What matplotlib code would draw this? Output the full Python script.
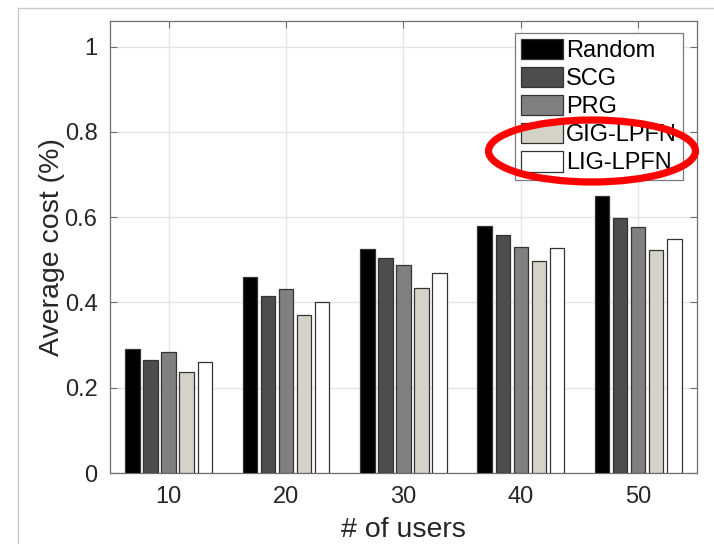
import numpy as np
import matplotlib.pyplot as plt
from matplotlib.lines import Line2D
from matplotlib.patches import Ellipse

# Data
users = [10, 20, 30, 40, 50]
methods = ['Random', 'SCG', 'PRG', 'GIG-LPFN', 'LIG-LPFN']
random_cost = [0.290, 0.460, 0.525, 0.580, 0.650]
scg_cost = [0.265, 0.415, 0.503, 0.557, 0.597]
prg_cost = [0.283, 0.432, 0.488, 0.530, 0.578]
gig_cost = [0.238, 0.370, 0.433, 0.496, 0.523]
lig_cost = [0.260, 0.400, 0.468, 0.528, 0.548]

series = [random_cost, scg_cost, prg_cost, gig_cost, lig_cost]
colors = ['#000000', '#4d4d4d', '#808080', '#d5d2c7', '#ffffff']

plt.rcParams['font.family'] = ['Liberation Sans', 'DejaVu Sans']

fig = plt.figure(figsize=(7.14, 5.44), dpi=100)
ax = fig.add_axes([0.154, 0.1305, 0.822, 0.831])

# MATLAB-like grouped bar layout
n = len(series)
group_w = min(0.8, n / (n + 1.5)) * 10
pitch = group_w / n
bar_w = pitch * 0.8
x = np.array(users, dtype=float)
for i, (vals, c) in enumerate(zip(series, colors)):
    offs = (i - (n - 1) / 2) * pitch
    ax.bar(x + offs, vals, width=bar_w, color=c, edgecolor='#333333',
           linewidth=0.9, label=methods[i], zorder=3)

ax.set_xlim(5, 55)
ax.set_ylim(0, 1.06)
ax.set_xticks(users)
ax.set_yticks([0, 0.2, 0.4, 0.6, 0.8, 1])
ax.set_yticklabels(['0', '0.2', '0.4', '0.6', '0.8', '1'])
ax.grid(True, color='#e3e3e3', linewidth=0.9, zorder=0)
ax.tick_params(direction='in', length=5, width=0.8, top=True, right=True,
               labelsize=17, colors='#6e6e6e', labelcolor='#262626', pad=9)
for s in ax.spines.values():
    s.set_color('#6e6e6e')
    s.set_linewidth(0.9)

ax.set_xlabel('# of users', fontsize=20.5, color='#262626', labelpad=7)
ax.set_ylabel('Average cost (%)', fontsize=20.5, color='#262626', labelpad=0)

leg = ax.legend(loc='upper right', bbox_to_anchor=(0.976, 0.973), fontsize=17,
                fancybox=False, framealpha=1, edgecolor='#7a7a7a',
                handlelength=1.75, handleheight=0.95, handletextpad=0.15,
                labelspacing=0.2, borderpad=0.25, borderaxespad=0)
leg.get_frame().set_linewidth(0.9)

# red ellipse drawn over the last two legend entries
fig.add_artist(Ellipse((5.92, 3.93), 2.07, 0.62, transform=fig.dpi_scale_trans,
                       fill=False, edgecolor='#ff0000', linewidth=5.2, zorder=10))

# light frame around the figure, as in the source screenshot
fig.add_artist(Line2D([18 / 714, 1], [1 - 8 / 544, 1 - 8 / 544],
                      color='#c8c8c8', linewidth=1))
fig.add_artist(Line2D([18 / 714, 18 / 714], [0, 1 - 8 / 544],
                      color='#c8c8c8', linewidth=1))

fig.savefig('out.png', dpi=100)
